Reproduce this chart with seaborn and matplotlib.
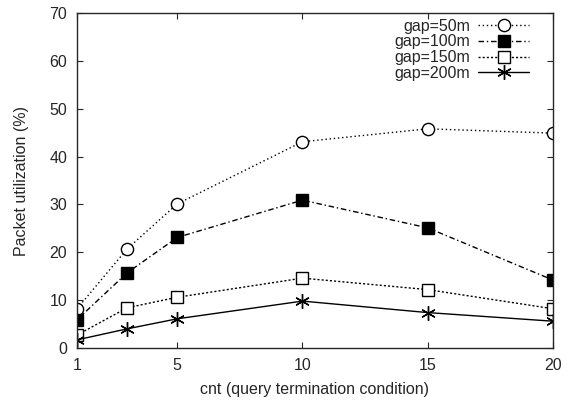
import matplotlib
matplotlib.use("Agg")
import matplotlib.pyplot as plt
import seaborn as sns
import pandas as pd

cnt = [1, 3, 5, 10, 15, 20]
gap50 = [8.2, 20.7, 30.1, 43.1, 45.8, 44.9]
gap100 = [5.9, 15.7, 23.1, 30.9, 25.1, 14.2]
gap150 = [2.7, 8.4, 10.6, 14.6, 12.2, 8.2]
gap200 = [1.7, 4.0, 6.1, 9.8, 7.4, 5.6]
labels = ["gap=50m", "gap=100m", "gap=150m", "gap=200m"]
xticks = [1, 5, 10, 15, 20]
yticks = [0, 10, 20, 30, 40, 50, 60, 70]

sns.set_style("ticks")
plt.rcParams['font.family'] = ['Liberation Sans', 'DejaVu Sans']

fig = plt.figure(figsize=(5.75, 4.01), dpi=100)
ax = fig.add_axes([77 / 575, 1 - 348 / 401, (553 - 77) / 575, (348 - 13) / 401])

styles = [
    dict(ls=(0, (1, 2)), marker='o', mfc='white', ms=8.8),
    dict(ls=(0, (4, 2, 1, 2)), marker='s', mfc='black', ms=9),
    dict(ls=(0, (1.5, 1.5)), marker='s', mfc='white', ms=8.5),
    dict(ls='-', marker=(6, 2, 0), mfc='black', ms=10.5),
]
for vals, lab, st in zip([gap50, gap100, gap150, gap200], labels, styles):
    df = pd.DataFrame({"cnt": cnt, "val": vals})
    sns.lineplot(data=df, x="cnt", y="val", ax=ax, color='black', lw=1,
                 linestyle=st['ls'], marker=st['marker'], markersize=st['ms'],
                 markerfacecolor=st['mfc'], markeredgecolor='black',
                 markeredgewidth=1, label=lab)

ax.set_xlim(1, 20)
ax.set_ylim(0, 70)
ax.set_xticks(xticks)
ax.set_yticks(yticks)
ax.tick_params(direction='in', top=True, right=True, labelsize=11.5, length=4, width=0.8, pad=7)
for s in ax.spines.values():
    s.set_linewidth(1)
ax.set_xlabel("cnt (query termination condition)", fontsize=11.5, labelpad=7)
ax.set_ylabel("Packet utilization (%)", fontsize=11.5, labelpad=15)

leg = ax.legend(loc='upper right', frameon=False, markerfirst=False, fontsize=11.5,
                handlelength=3.2, labelspacing=0.05, borderaxespad=0.0, handletextpad=0.5,
                borderpad=0.35, bbox_to_anchor=(1 - 18 / 476, 1.0))

fig.savefig("out.png", dpi=100)
